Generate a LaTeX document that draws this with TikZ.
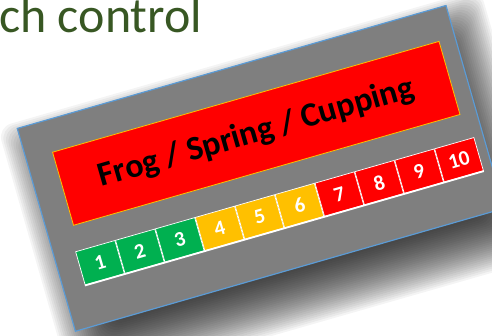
\documentclass[tikz,border=0pt]{standalone}
\usepackage{fontspec}
\setmainfont{Carlito}
\usepackage{xcolor}
\usepackage{tikz}
\usetikzlibrary{positioning}

\definecolor{titlegreen}{HTML}{385723}
\definecolor{panelgray}{HTML}{7F7F7F}
\definecolor{edgeblue}{HTML}{5B9BD5}
\definecolor{goodgreen}{HTML}{00B050}
\definecolor{warnamber}{HTML}{FFC000}
\definecolor{badred}{HTML}{FF0000}

\begin{document}
\begin{tikzpicture}[x=1pt,y=1pt,
  panel/.style={draw=edgeblue,line width=1.2pt,fill=panelgray,inner sep=0pt,
    minimum width=446pt,minimum height=211pt},
  haze/.style={fill=black,fill opacity=0.045,draw=none},
  banner/.style={draw=warnamber,line width=0.8pt,fill=badred,inner sep=0pt,
    minimum width=402pt,minimum height=76pt,font=\fontsize{34}{40}\selectfont\bfseries},
  cell/.style={draw=white,line width=0.7pt,inner sep=0pt,minimum width=40.8pt,
    minimum height=34.6pt,text=white,font=\fontsize{21}{25}\selectfont\bfseries},
  ok/.style={cell,fill=goodgreen},
  warn/.style={cell,fill=warnamber},
  bad/.style={cell,fill=badred}]
  \useasboundingbox (0,0) rectangle (492,336);
  \clip (0,0) rectangle (492,336);
  \node[anchor=base west,inner sep=0pt,text=titlegreen,font=\fontsize{50}{58}\selectfont] (head) at (-1,303) {ch control};
  \begin{scope}[shift={(75,4)},rotate=16,transform shape]
    % soft shadow under the board
    \foreach \e in {-28,-26,...,28}
      \fill[haze,rounded corners=14pt] (10-\e,-30-\e) rectangle (456+\e,190+\e);
    \node[panel,anchor=south west] (board) at (0,0) {};
    \node[banner] (name) at (229,141) {Frog / Spring / Cupping};
    \node[ok,anchor=south west] (c1) at (22.4,42) {1};
    \node[ok,right=0pt of c1] (c2) {2};
    \node[ok,right=0pt of c2] (c3) {3};
    \node[warn,right=0pt of c3] (c4) {4};
    \node[warn,right=0pt of c4] (c5) {5};
    \node[warn,right=0pt of c5] (c6) {6};
    \node[bad,right=0pt of c6] (c7) {7};
    \node[bad,right=0pt of c7] (c8) {8};
    \node[bad,right=0pt of c8] (c9) {9};
    \node[bad,right=0pt of c9] (c10) {10};
    \draw[white,line width=1.8pt] (c1.south west) -- (c10.south east);
  \end{scope}
\end{tikzpicture}
\end{document}
